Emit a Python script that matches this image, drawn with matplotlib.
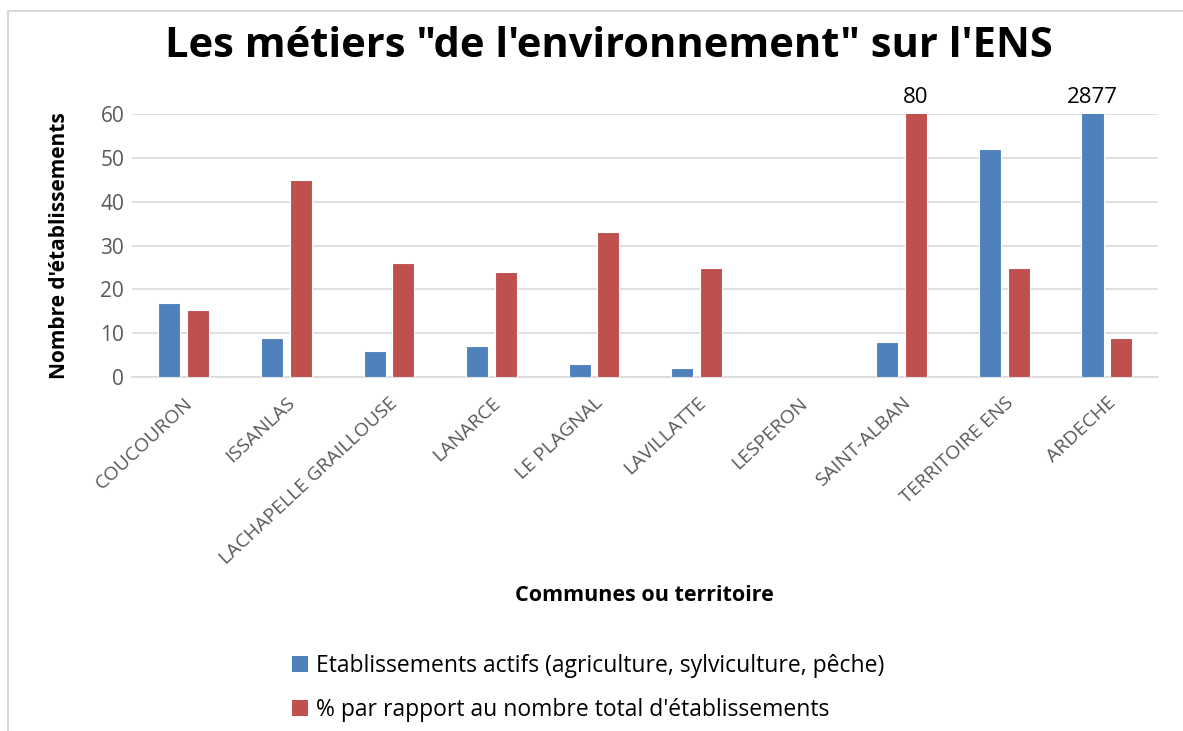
import numpy as np
import matplotlib
matplotlib.use("Agg")
from matplotlib import pyplot as plt
from matplotlib.patches import Patch
from matplotlib.lines import Line2D

plt.rcParams['font.family'] = ['Open Sans', 'DejaVu Sans']

# data
communes = ['COUCOURON', 'ISSANLAS', 'LACHAPELLE GRAILLOUSE', 'LANARCE', 'LE PLAGNAL',
            'LAVILLATTE', 'LESPERON', 'SAINT-ALBAN', 'TERRITOIRE ENS', 'ARDECHE']
etablissements = [17, 9, 6, 7, 3, 2, 0, 8, 52, 2877]
pourcentage = [15.3, 45, 26, 24, 33, 24.8, 0, 80, 24.8, 9]

blue = '#4F81BD'
red = '#C0504D'
gray_text = '#595959'

fig = plt.figure(figsize=(11.83, 7.31), dpi=100)
ax = fig.add_axes([0.112, 0.484, 0.867, 0.360])

x = np.arange(len(communes))
w = 0.215
b1 = ax.bar(x - 0.14, etablissements, w, color=blue, edgecolor='white', linewidth=0.8, zorder=3,
            label='Etablissements actifs (agriculture, sylviculture, pêche)')
b2 = ax.bar(x + 0.14, pourcentage, w, color=red, edgecolor='white', linewidth=0.8, zorder=3,
            label="% par rapport au nombre total d'établissements")

ax.set_ylim(0, 60)
ax.set_xlim(-0.5, len(communes) - 0.5)
ax.set_yticks(range(0, 61, 10))
ax.grid(axis='y', color='#d9d9d9', linewidth=1.2, zorder=0)
for s in ['top', 'right', 'left']:
    ax.spines[s].set_visible(False)
ax.spines['bottom'].set_color('#d9d9d9')
ax.spines['bottom'].set_linewidth(1.2)
ax.tick_params(axis='both', length=0, colors=gray_text, labelsize=15)
ax.tick_params(axis='y', pad=6)
ax.tick_params(axis='x', pad=12)
ax.set_xticks(x)
ax.set_xticklabels(communes, rotation=43, ha='right', rotation_mode='anchor', fontsize=14)

# labels for the bars that go beyond the axis
ymax = ax.get_ylim()[1]
for bars, vals in [(b1, etablissements), (b2, pourcentage)]:
    for rect, v in zip(bars, vals):
        if v > ymax:
            ax.text(rect.get_x() + rect.get_width() / 2, ymax + 1.4, str(v),
                    ha='center', va='bottom', fontsize=16, color='black')

ax.set_ylabel("Nombre d'établissements", fontsize=15, fontweight='bold', labelpad=22)
fig.text(0.545, 0.186, 'Communes ou territoire', ha='center', va='center',
         fontsize=15.5, fontweight='bold')
fig.text(0.515, 0.936, 'Les métiers "de l\'environnement" sur l\'ENS', ha='center', va='center',
         fontsize=30, fontweight='bold')

handles = [Patch(facecolor=blue), Patch(facecolor=red)]
labels = [b1.get_label(), b2.get_label()]
fig.legend(handles, labels, loc='upper left', bbox_to_anchor=(0.229, 0.133),
           bbox_transform=fig.transFigure, frameon=False, fontsize=16.5,
           handlelength=0.7, handleheight=0.7, handletextpad=0.35, labelspacing=0.85)

# chart area border (left and top edges visible)
fig.add_artist(Line2D([0.007, 0.007, 1.0], [0.0, 0.985, 0.985], color='#d9d9d9', linewidth=1.5,
                      transform=fig.transFigure))

fig.savefig('out.png', dpi=100)
